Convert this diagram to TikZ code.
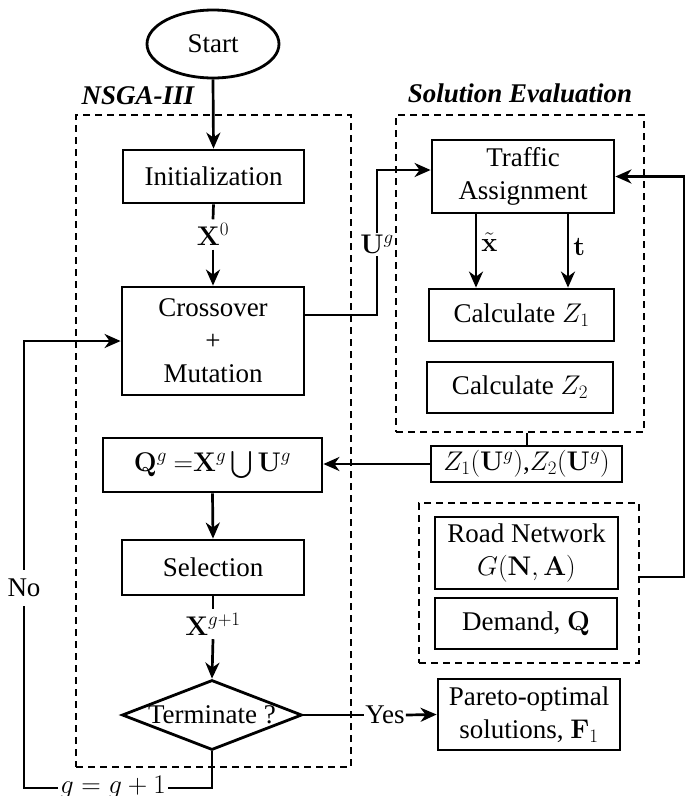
\RequirePackage{fix-cm}
\documentclass[tikz,border=0pt]{standalone}
\usepackage[no-math]{fontspec}
\setmainfont{Liberation Serif}
\DeclareFontShape{OMX}{cmex}{m}{n}{<-> cmex10}{}
\DeclareMathSizes{27}{27}{19}{13.5}
\usetikzlibrary{shapes.geometric,arrows.meta}
\tikzset{
  bx/.style={draw, line width=2.8pt, inner sep=0pt, align=center},
  dbox/.style={draw, line width=2.3pt, dash pattern=on 7pt off 5pt, inner sep=0pt},
  conn/.style={line width=2.7pt},
  arr/.style={line width=2.7pt, -{Stealth[length=16pt,width=14pt,inset=5pt]}},
  ttl/.style={inner sep=0pt, font=\fontsize{27}{33}\selectfont\bfseries\itshape}
}
\begin{document}
\begin{tikzpicture}[x=1pt,y=-1pt,font=\fontsize{27}{33}\selectfont]
\useasboundingbox (0,0) rectangle (686,796);
% dashed groups
\node[dbox, minimum width=275pt, minimum height=652pt] (nsga) at (213.5,441) {};
\node[dbox, minimum width=248pt, minimum height=317pt] (soleval) at (520,273.5) {};
\node[dbox, minimum width=220pt, minimum height=160pt] (roadbox) at (529,583) {};
\node[ttl] (nsgat) at (138,96) {NSGA-III};
\node[ttl] (solt) at (520,93) {Solution Evaluation};
% main nodes
\node[bx, ellipse, minimum width=132pt, minimum height=68pt] (start) at (213,44) {Start};
\node[bx, minimum width=181pt, minimum height=53pt] (init) at (213.5,176.5) {Initialization};
\node[bx, minimum width=182pt, minimum height=108pt] (cross) at (213,341) {Crossover\\+\\Mutation};
\node[bx, minimum width=219pt, minimum height=54pt] (qbox) at (212.5,465) {$\mathbf{Q}^g\ {=}\mathbf{X}^g\bigcup\mathbf{U}^g$};
\node[bx, minimum width=182pt, minimum height=55pt] (sel) at (213,567.5) {Selection};
\node[bx, diamond, minimum width=180pt, minimum height=70pt] (term) at (212,715) {\makebox[0pt]{Terminate ?}};
\node[bx, minimum width=182pt, minimum height=73pt] (traffic) at (523,176.5) {Traffic\\Assignment};
\node[bx, minimum width=185pt, minimum height=52pt] (z1) at (521.5,315) {Calculate $Z_1$};
\node[bx, minimum width=186pt, minimum height=51pt] (z2) at (520,387.5) {Calculate $Z_2$};
\node[bx, minimum width=191pt, minimum height=36pt] (zz) at (526.5,464) {$Z_1(\mathbf{U}^g)$,$Z_2(\mathbf{U}^g)$};
\node[bx, minimum width=183pt, minimum height=72pt] (road) at (526.5,553) {Road Network\\$G(\mathbf{N},\mathbf{A})$};
\node[bx, minimum width=182pt, minimum height=51pt] (demand) at (526,623.5) {Demand, $\mathbf{Q}$};
\node[bx, minimum width=182pt, minimum height=71pt] (pareto) at (529,714.5) {Pareto-optimal\\solutions, $\mathbf{F}_1$};
% labels on connectors
\node[inner sep=4pt] (x0) at (213,234.5) {$\mathbf{X}^0$};
\node[inner sep=4pt] (xg1) at (213,624) {$\mathbf{X}^{g+1}$};
\node[inner sep=2pt] (ug) at (377,244.5) {$\mathbf{U}^g$};
\node[inner sep=1pt] (yes) at (385,715) {Yes};
\node[inner xsep=2pt, inner ysep=9pt] (no) at (24,588) {No};
\node[inner sep=2pt] (gg) at (113,787) {$g=g+1$};
% helper coordinates
\coordinate (hU) at (0,315);
\coordinate (hT) at (0,170);
\coordinate (xa) at (476,0);
\coordinate (xb) at (568,0);
\coordinate (hR) at (0,577);
\coordinate (vR) at (684,0);
\coordinate (vZ) at (527,0);
% connectors
\draw[arr] (start.south) -- (init.north);
\draw[conn] (init.south) -- (x0.north);
\draw[arr] (x0.south) -- (cross.north);
\draw[conn] (cross.east |- hU) -| (ug.south);
\draw[arr] (ug.north) |- (traffic.west |- hT);
\draw[arr] (traffic.south -| xa) -- (z1.north -| xa) node[pos=0.38, right=4pt, inner sep=0pt] (xt) {$\tilde{\mathbf{x}}$};
\draw[arr] (traffic.south -| xb) -- (z1.north -| xb) node[pos=0.45, right=4pt, inner sep=0pt] (tt) {$\mathbf{t}$};
\draw[conn] (zz.north -| vZ) -- (soleval.south -| vZ);
\draw[arr] (zz.west) -- (qbox.east |- zz.west);
\draw[arr] (qbox.south) -- (sel.north);
\draw[conn] (sel.south) -- (xg1.north);
\draw[arr] (xg1.south) -- (term.north);
\draw[conn] (term.east) -- (yes.west);
\draw[arr] (yes.east) -- (pareto.west);
\draw[conn] (term.south) |- (gg.east |- 0,788);
\draw[conn] (gg.west |- 0,788) -| (no.south);
\draw[arr] (no.north) |- (cross.west);
\draw[arr] (roadbox.east |- hR) -- (vR |- hR) |- (traffic.east);
\end{tikzpicture}
\end{document}
